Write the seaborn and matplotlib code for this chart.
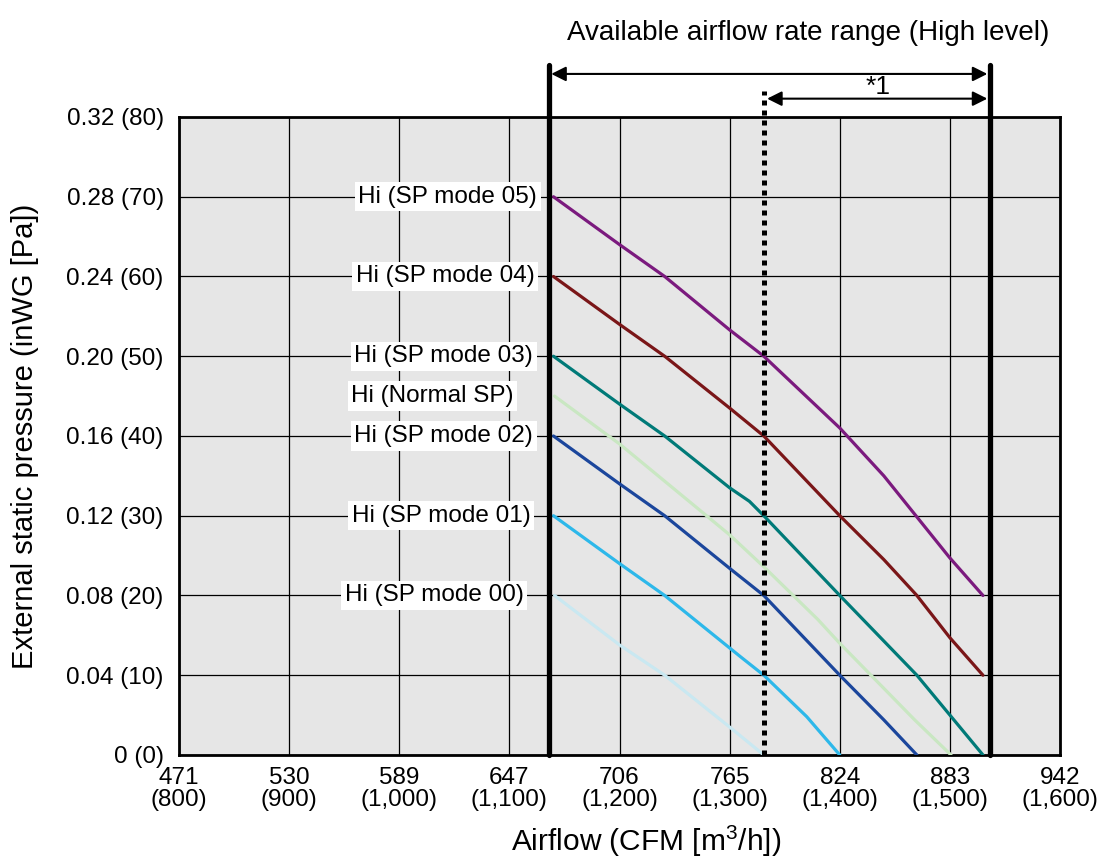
import numpy as np
import pandas as pd
import matplotlib
matplotlib.use("Agg")
import matplotlib.pyplot as plt
import seaborn as sns

# airflow in m3/h, pressure in Pa
mode05_x = [1140, 1200, 1241, 1300, 1331, 1400, 1440, 1500, 1530]
mode05_y = [70, 64, 60, 53.3, 50, 41, 35, 24.7, 20]
mode04_x = [1140, 1200, 1241, 1300, 1331, 1400, 1440, 1470, 1500, 1530]
mode04_y = [60, 54, 50, 43.5, 40, 30, 24.5, 20, 14.7, 10]
mode03_x = [1140, 1200, 1241, 1300, 1318, 1331, 1400, 1470, 1530]
mode03_y = [50, 44, 40, 33.5, 31.8, 30, 20, 10, 0]
normal_x = [1141, 1200, 1279, 1300, 1331, 1380, 1400, 1468, 1501]
normal_y = [45, 39, 30, 27.6, 23.6, 17, 14, 4.4, 0]
mode02_x = [1140, 1200, 1241, 1300, 1331, 1400, 1440, 1470]
mode02_y = [40, 34, 30, 23.4, 20, 10, 4.4, 0]
mode01_x = [1140, 1200, 1241, 1310, 1331, 1370, 1400]
mode01_y = [30, 24, 20, 12.3, 10, 4.8, 0]
mode00_x = [1141, 1200, 1241, 1300, 1331]
mode00_y = [20, 13.8, 10, 3.5, 0]

series = ["Hi (SP mode 05)", "Hi (SP mode 04)", "Hi (SP mode 03)", "Hi (Normal SP)",
          "Hi (SP mode 02)", "Hi (SP mode 01)", "Hi (SP mode 00)"]
xs = [mode05_x, mode04_x, mode03_x, normal_x, mode02_x, mode01_x, mode00_x]
ys = [mode05_y, mode04_y, mode03_y, normal_y, mode02_y, mode01_y, mode00_y]
colors = ["#7B1A7E", "#7A1618", "#007A78", "#C9E7C2", "#1B469C", "#2DB8EA", "#C9E8F1"]

x_m3h = [800, 900, 1000, 1100, 1200, 1300, 1400, 1500, 1600]
x_cfm = ["471", "530", "589", "647", "706", "765", "824", "883", "942"]
y_pa = [0, 10, 20, 30, 40, 50, 60, 70, 80]
y_inwg = ["0", "0.04", "0.08", "0.12", "0.16", "0.20", "0.24", "0.28", "0.32"]

range_lo, range_hi, range_star = 1136, 1536, 1331

df = pd.concat([pd.DataFrame({"airflow": x, "pressure": y, "mode": s})
                for s, x, y in zip(series, xs, ys)])

sns.set_style("white")
plt.rcParams["font.family"] = ["Liberation Sans", "DejaVu Sans"]
plt.rcParams["mathtext.default"] = "regular"
for key in ["text.color", "axes.labelcolor", "xtick.color", "ytick.color"]:
    plt.rcParams[key] = "black"

fs = 17.5
fig = plt.figure(figsize=(11.01, 8.59), dpi=100)
ax = fig.add_axes([0.1626, 0.1211, 0.8002, 0.7427])
ax.set_facecolor("#E6E6E6")

sns.lineplot(data=df, x="airflow", y="pressure", hue="mode", palette=dict(zip(series, colors)),
             sort=False, estimator=None, linewidth=2.3, legend=False, ax=ax, zorder=3)

ax.set_xlim(800, 1600)
ax.set_ylim(0, 80)
ax.set_xticks(x_m3h)
ax.set_xticklabels([f"{c}\n({m:,})" for c, m in zip(x_cfm, x_m3h)], fontsize=fs, linespacing=1.0)
ax.set_yticks(y_pa)
ax.set_yticklabels([f"{i} ({p})" for i, p in zip(y_inwg, y_pa)], fontsize=fs)
ax.tick_params(axis="x", length=0, pad=9)
ax.tick_params(axis="y", length=0, pad=11)
ax.grid(True, color="black", linewidth=0.9)
for sp in ax.spines.values():
    sp.set_linewidth(2)
    sp.set_color("black")
ax.set_xlabel("Airflow (CFM [m$^{3}$/h])", fontsize=21.5)
ax.xaxis.set_label_coords(0.53, -0.108)
ax.set_ylabel("External static pressure (inWG [Pa])", fontsize=21, labelpad=20)

# curve labels on white boxes, right aligned just left of the range line
label_right = [1125, 1123, 1121.5, 1104, 1121.5, 1119, 1113]
for s, y, xr in zip(series, ys, label_right):
    ax.text(xr, y[0], s, ha="right", va="center", fontsize=fs, zorder=4,
            bbox=dict(boxstyle="square,pad=0.15", fc="white", ec="none"))

# available range markers
ax.plot([range_lo, range_lo], [0, 86.5], color="black", lw=3.8, clip_on=False, zorder=5)
ax.plot([range_hi, range_hi], [0, 86.5], color="black", lw=3.8, clip_on=False, zorder=5)
ax.plot([range_star, range_star], [0, 83.3], color="black", lw=3.6, ls=(0, (1, 1)),
        clip_on=False, zorder=5)
arrow = dict(arrowstyle="<|-|>", color="black", lw=1.5, mutation_scale=22, shrinkA=0, shrinkB=0)
ax.annotate("", xy=(range_hi - 2, 85.4), xytext=(range_lo + 2, 85.4), arrowprops=arrow,
            annotation_clip=False)
ax.annotate("", xy=(range_hi - 2, 82.3), xytext=(range_star + 3, 82.3), arrowprops=arrow,
            annotation_clip=False)
ax.text(1435, 83.8, "*1", ha="center", va="center", fontsize=19)
ax.text(1371, 90.5, "Available airflow rate range (High level)", ha="center", va="center",
        fontsize=20)

fig.savefig("out.png", dpi=100)
